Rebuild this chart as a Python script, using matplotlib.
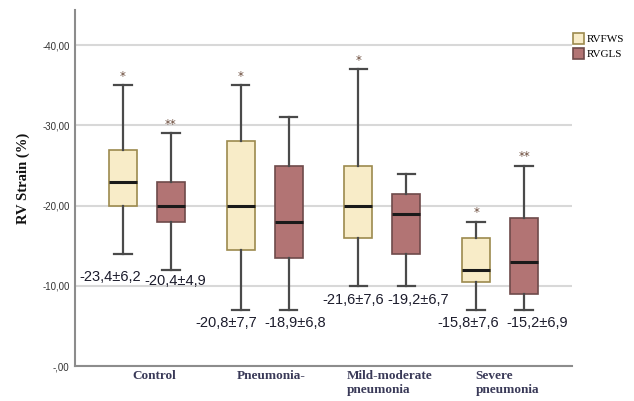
import numpy as np
import matplotlib
matplotlib.use("Agg")
import matplotlib.pyplot as plt
import matplotlib.transforms as mtransforms
import matplotlib.patches as mpatches
from matplotlib.ticker import FuncFormatter

# groups and series
groups = ["Control", "Pneumonia-", "Mild-moderate\npneumonia", "Severe\npneumonia"]
series = ["RVFWS", "RVGLS"]

# box stats (strain, %)
rvfws_whislo = [-14.0, -7.0, -10.0, -7.0]
rvfws_q1 = [-20.0, -14.5, -16.0, -10.5]
rvfws_med = [-23.0, -20.0, -20.0, -12.0]
rvfws_q3 = [-27.0, -28.0, -25.0, -16.0]
rvfws_whishi = [-35.0, -35.0, -37.0, -18.0]

rvgls_whislo = [-12.0, -7.0, -10.0, -7.0]
rvgls_q1 = [-18.0, -13.5, -14.0, -9.0]
rvgls_med = [-20.0, -18.0, -19.0, -13.0]
rvgls_q3 = [-23.0, -25.0, -21.5, -18.5]
rvgls_whishi = [-29.0, -31.0, -24.0, -25.0]

# mean +- sd labels and significance marks
rvfws_text = ["-23,4±6,2", "-20,8±7,7", "-21,6±7,6", "-15,8±7,6"]
rvgls_text = ["-20,4±4,9", "-18,9±6,8", "-19,2±6,7", "-15,2±6,9"]
rvfws_sig = ["*", "*", "*", "*"]
rvgls_sig = ["**", "", "", "**"]

fill_colors = ["#F8ECC8", "#B27474"]
edge_colors = ["#9C8A4E", "#6E4A4A"]


def stats(lo, q1, med, q3, hi):
    return [dict(whislo=a, q1=b, med=c, q3=d, whishi=e, fliers=[])
            for a, b, c, d, e in zip(lo, q1, med, q3, hi)]


fig = plt.figure(figsize=(6.34, 4.01), dpi=100)
ax = fig.add_axes([75 / 634, 1 - 366 / 401, 497 / 634, 356 / 401])

x = np.arange(len(groups))
off = 0.204
width = 0.238

all_stats = [stats(rvfws_whislo, rvfws_q1, rvfws_med, rvfws_q3, rvfws_whishi),
             stats(rvgls_whislo, rvgls_q1, rvgls_med, rvgls_q3, rvgls_whishi)]
texts = [rvfws_text, rvgls_text]
sigs = [rvfws_sig, rvgls_sig]
# label nudges in pixels (dx, dy below lower whisker)
text_dx = [[-13, -14, -5, -8], [4, 7, 12, 13]]
text_dy = [[-16, -6, -7, -6], [-4, -6, -7, -6]]

for k in range(2):
    pos = x + (2 * k - 1) * off
    ax.bxp(all_stats[k], positions=pos, widths=width, patch_artist=True,
           showfliers=False,
           boxprops=dict(facecolor=fill_colors[k], edgecolor=edge_colors[k], linewidth=1.2),
           medianprops=dict(color="#1a1a1a", linewidth=2.2),
           whiskerprops=dict(color="#4a4a4a", linewidth=1.6),
           capprops=dict(color="#4a4a4a", linewidth=1.6),
           capwidths=0.15, zorder=3)
    for i, p in enumerate(pos):
        st = all_stats[k][i]
        ax.annotate(texts[k][i], (p, st["whislo"]),
                    xytext=(text_dx[k][i], text_dy[k][i]), textcoords="offset pixels",
                    ha="center", va="top", fontsize=10.5, family="Liberation Sans",
                    color="#1c1c2c", zorder=5)
        if sigs[k][i]:
            ax.annotate(sigs[k][i], (p, st["whishi"]), xytext=(0, 9),
                        textcoords="offset pixels", ha="center", va="center",
                        fontsize=8.5, color="#6a4a3a", zorder=5)

ax.set_ylim(0, -44.4)
ax.set_xlim(-0.61, 3.61)
ax.set_yticks([0, -10, -20, -30, -40])
ax.yaxis.set_major_formatter(FuncFormatter(
    lambda v, _: ("-" + f"{abs(v):.2f}".lstrip("0")).replace(".", ",")))
ax.tick_params(axis="y", length=0, pad=4, labelsize=7, labelcolor="#333333")
for lab in ax.get_yticklabels():
    lab.set_family("Liberation Sans")
ax.grid(axis="y", color="#D8D8D8", linewidth=1.5, zorder=0)
ax.set_axisbelow(True)

ax.set_xticks(x)
ax.set_xticklabels(groups, family="Liberation Serif", fontweight="bold",
                   fontsize=9.5, color="#3a3a58", linespacing=1.2,
                   multialignment="left")
ax.tick_params(axis="x", length=0, pad=3)
shift = mtransforms.ScaledTranslation(7 / 100, 0, fig.dpi_scale_trans)
for lab in ax.get_xticklabels():
    lab.set_transform(lab.get_transform() + shift)

for s in ["top", "right"]:
    ax.spines[s].set_visible(False)
for s in ["left", "bottom"]:
    ax.spines[s].set_color("#8c8c8c")
    ax.spines[s].set_linewidth(1.5)

fig.text(23 / 634, 1 - 178 / 401, "RV Strain (%)", rotation=90, ha="center",
         va="center", family="Liberation Serif", fontweight="bold",
         fontsize=10.5, color="#111111")

handles = [mpatches.Patch(facecolor=fill_colors[k], edgecolor=edge_colors[k],
                          linewidth=1.2, label=series[k]) for k in range(2)]
fig.legend(handles=handles, loc="upper left", bbox_to_anchor=(573 / 634, 1 - 33 / 401),
           frameon=False, borderpad=0, borderaxespad=0, handlelength=1.0,
           handleheight=1.1, handletextpad=0.25, labelspacing=0.35,
           prop=dict(family="Liberation Serif", size=8))

fig.savefig("out.png", dpi=100)
